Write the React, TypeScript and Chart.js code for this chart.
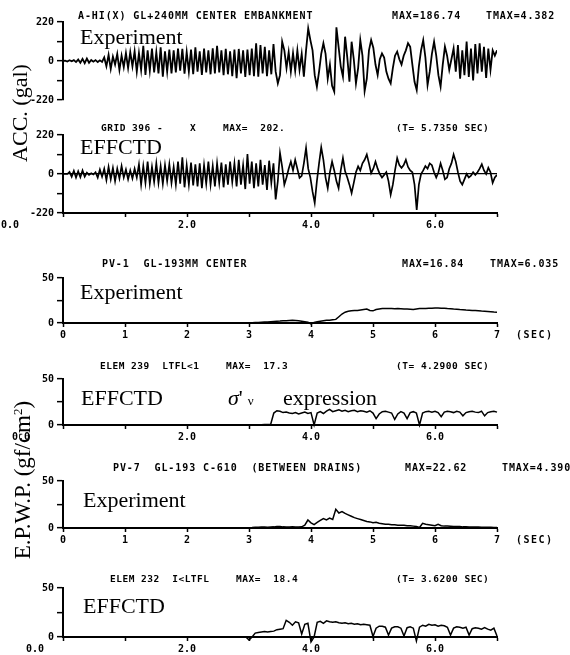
import React, { useEffect, useRef } from 'react';
import { Chart, registerables } from 'chart.js';

Chart.register(...registerables);

// ---------------- DATA ----------------
const TIME_START = 0;
const TIME_END = 7;
const TIME_TICKS = [0, 1, 2, 3, 4, 5, 6, 7];
const SEC_TICK_LABELS = ['0', '1', '2', '3', '4', '5', '6', '7'];
const DEC_TICK_LABELS = ['', '', '2.0', '', '4.0', '', '6.0', ''];
const ACC_TICKS = [-220, -110, 0, 110, 220];
const ACC_TICK_LABELS = ['-220', '', '0', '', '220'];
const EPWP_TICKS = [0, 25, 50];
const EPWP_TICK_LABELS = ['0', '', '50'];

// acceleration, experiment (gal), uniform time steps over 0–7 s
const ACC_EXPERIMENT = [
  0, 2, -3, 4, -2, 5, -6, 8, -10, 12,
  -12, 14, -10, 6, -4, 5, -6, 4, -5, 20,
  -30, 35, -45, 25, -20, 40, -50, 30, -35, 45,
  -40, 50, -30, 55, -60, 45, -50, 86, -79, 60,
  -55, 70, -65, 50, -70, 77, -88, 55, -60, 65,
  -70, 60, -65, 70, -55, 68, -72, 50, -60, 65,
  -75, 77, -60, 55, -79, 70, -65, 60, -75, 72,
  -70, 86, -65, 60, -80, 68, -75, 55, -85, 65,
  -97, 68, -70, 60, -90, 65, -80, 70, -85, 100,
  -88, 90, -70, 80, -85, 60, -75, 95, -60, -126,
  -80, 109, 60, -40, 50, -60, 45, -55, 60, -50,
  40, -88, 60, 184, 118, 60, -80, -145, -60, 40,
  100, 40, -100, -20, -140, -173, 190, 80, -30, -88,
  137, 20, -117, 109, 10, -126, -40, 118, 30, -170,
  -100, 60, 118, 75, -20, -79, 10, 43, 20, -60,
  -100, -126, -40, 30, 53, 10, -20, 30, 60, 100,
  80, -20, -117, -164, -30, 60, 118, 20, -135, -60,
  40, 109, 30, -80, -145, -20, 81, 30, -50, 10,
  71, -60, 90, -100, 60, -80, 110, -90, 70, -110,
  95, -70, 100, -60, 80, -95, 70, -50, 60, 30,
  60,
];

// acceleration, EFFCTD analysis (gal)
const ACC_EFFCTD = [
  0, 0, 0, 12, -15, 18, -20, 15, -18, 20,
  -15, 8, -5, 4, -3, 10, -20, 25, -15, 30,
  -35, 40, -30, 35, -40, 30, -25, 45, -20, 25,
  -30, 20, -25, 30, -20, 55, -60, 45, -50, 70,
  -55, 40, -45, 60, -50, 45, -55, 50, -40, 55,
  -50, 40, -60, 70, -55, 94, -75, 50, -60, 65,
  -65, 55, -70, 60, -80, 50, -55, 70, -60, 45,
  -70, 60, -50, 65, -75, 55, -60, 70, -45, 60,
  -70, 80, -60, 50, -85, 113, -55, 70, -80, 60,
  -70, 80, -60, 50, -90, 75, -50, 60, -143, -40,
  118, 40, -60, -20, 30, 70, 20, 80, 30, -22,
  -10, 60, 147, 30, -20, -100, -163, -40, 60, 150,
  80, -20, -80, 10, 70, 20, -40, -80, 20, 90,
  15, -20, -60, -107, -50, 10, 43, 20, 60, 80,
  110, 60, 5, 30, 70, 30, 0, -20, -5, 10,
  -40, -117, -60, 20, 90, 50, 35, 50, 80, 40,
  20, 10, -60, -202, -60, 0, 20, 45, 30, 60,
  50, 10, -20, 10, 60, 20, -30, -20, 30, 60,
  110, 70, 10, -40, -60, -30, 0, -20, -10, 10,
  -5, 10, 30, 55, 20, 0, 35, 10, -50, -20,
  -5,
];

// excess pore water pressure (gf/cm2), PV-1 experiment
const EPWP_PV1_EXPERIMENT = [
  0, 0, 0, 0, 0, 0, 0, 0, 0, 0,
  0, 0, 0, 0, 0, 0, 0, 0, 0, 0,
  0, 0, 0, 0, 0, 0, 0, 0, 0, 0,
  0, 0, 0, 0, 0, 0, 0, 0, 0, 0,
  0, 0, 0, 0, 0, 0, 0, 0, 0, 0,
  0, 0, 0, 0, 0, 0, 0, 0, 0, 0,
  0, 0.3, 0.5, 0.5, 0.8, 1.0, 1.2, 1.5, 1.8, 2.0,
  2.2, 2.5, 2.5, 2.8, 3.0, 2.8, 2.5, 2.0, 1.5, 0.8,
  -1.0, 0.5, 1.5, 2.0, 2.5, 3.0, 3.0, 3.5, 4.0, 7.0,
  10, 12, 13, 13.5, 14, 14, 14.5, 15, 15.5, 14,
  13.5, 15, 15.5, 16, 16, 16, 16, 15.8, 16, 15.8,
  15.5, 15.5, 15.3, 15, 15.5, 16, 16, 16.2, 16.5, 16.5,
  16.8, 16.8, 16.5, 16.3, 16, 15.8, 15.5, 15.3, 15, 14.8,
  14.5, 14.3, 14, 13.8, 13.5, 13.2, 13, 12.8, 12.5, 12.2,
  12,
];

// EFFCTD element 239
const EPWP_E239_EFFCTD = [
  0, 0, 0, 0, 0, 0, 0, 0, 0, 0,
  0, 0, 0, 0, 0, 0, 0, 0, 0, 0,
  0, 0, 0, 0, 0, 0, 0, 0, 0, 0,
  0, 0, 0, 0, 0, 0, 0, 0, 0, 0,
  0, 0, 0, 0, 0, 0, 0, 0, 0, 0,
  0, 0, 0, 0, 0, 0, 0, 0, 0, 0,
  0, 0.1, 0.2, 0.3, 0.4, 0.5, 0.6, 0.8, 13, 15.5,
  15, 13.5, 14, 13, 12.5, 13.5, 12, 13, 14, 12.5,
  13.5, 0, 13, 14.5, 12.5, 15, 17, 14.5, 15.5, 16.5,
  15, 16, 14.5, 15.5, 16, 14.5, 15.5, 15, 14, 15.5,
  13, 7, 12, 14.5, 15, 14, 13, 6, 12, 14.5,
  13, 7, 13.5, 14.5, 13, 0, 13, 14.5, 15, 14,
  15, 13.5, 9, 14, 15, 14.5, 13.5, 15, 14, 10,
  13.5, 14.5, 15, 14, 13.5, 15, 10, 13.5, 14.5, 15,
  14,
];

// PV-7 experiment (between drains)
const EPWP_PV7_EXPERIMENT = [
  0, 0, 0, 0, 0, 0, 0, 0, 0, 0,
  0, 0, 0, 0, 0, 0, 0, 0, 0, 0,
  0, 0, 0, 0, 0, 0, 0, 0, 0, 0,
  0, 0, 0, 0, 0, 0, 0, 0, 0, 0,
  0, 0, 0, 0, 0, 0, 0, 0, 0, 0,
  0, 0, 0, 0, 0, 0, 0, 0, 0, 0,
  0.3, 0.5, 0.8, 0.8, 1.0, 1.0, 0.8, 1.0, 1.2, 1.5,
  1.5, 1.2, 1.0, 1.0, 1.2, 1.0, 1.0, 1.2, 3, 8.5,
  5.5, 3.5, 6, 8, 10, 8.5, 10.5, 9, 20, 16,
  17.5, 15.5, 14, 12.5, 11, 10, 9, 8, 7, 6.5,
  5.5, 6, 5, 4.5, 4, 4, 3.5, 3.5, 3, 3,
  3, 2.5, 2.5, 2, 1.5, 0.5, 5, 4, 3.5, 3,
  2.5, 4, 2.5, 2, 2, 1.8, 1.5, 1.5, 1.5, 1.2,
  1.2, 1, 1, 1, 1, 0.8, 0.8, 0.8, 0.8, 0.5,
  0.5,
];

// EFFCTD element 232
const EPWP_E232_EFFCTD = [
  0, 0, 0, 0, 0, 0, 0, 0, 0, 0,
  0, 0, 0, 0, 0, 0, 0, 0, 0, 0,
  0, 0, 0, 0, 0, 0, 0, 0, 0, 0,
  0, 0, 0, 0, 0, 0, 0, 0, 0, 0,
  0, 0, 0, 0, 0, 0, 0, 0, 0, 0,
  0, 0, 0, 0, 0, 0, 0, 0, 0, 0,
  -3, 0, 4, 4.5, 5, 5.5, 5, 5.5, 6, 7.5,
  8, 8.5, 17, 15, 12, 15.5, 14.5, 3, 13, 14,
  -5, 0, 15, 16, 14, 16.5, 15.5, 15, 15.5, 14.5,
  14, 14.5, 13.5, 14, 13, 13.5, 12.5, 13, 12.5, 12,
  0.5, 9, 11, 11, 10, 2, 9, 10.5, 10.5, 9,
  1, 9.5, 10.5, 9, -4, 10, 12, 11, 13, 12,
  12.5, 11, 12, 11.5, 10, 2, 9, 10.5, 10, 9,
  10, 2, 8.5, 9.5, 9, 8, 9.5, 8, 7, 9,
  1,
];

// ---------------- LAYOUT ----------------
const W = 570;
const H = 655;
const PLOT_LEFT = 63;
const PLOT_RIGHT = 497;
const XAXIS_H = 18;
const PLOT_FONT = '"DejaVu Sans Mono", "Liberation Mono", monospace';
const SERIF = '"Liberation Serif", "DejaVu Serif", serif';

type Panel = {
  values: number[];
  yMin: number;
  yMax: number;
  yTicks: number[];
  yLabels: string[];
  top: number;
  bottom: number;
  xAxis: 'none' | 'sec' | 'dec';
  zeroLine: boolean;
  lineWidth: number;
  clip: boolean;
};

const PANELS: Panel[] = [
  { values: ACC_EXPERIMENT, yMin: -220, yMax: 220, yTicks: ACC_TICKS, yLabels: ACC_TICK_LABELS, top: 22, bottom: 100, xAxis: 'none', zeroLine: false, lineWidth: 1.8, clip: true },
  { values: ACC_EFFCTD, yMin: -220, yMax: 220, yTicks: ACC_TICKS, yLabels: ACC_TICK_LABELS, top: 135, bottom: 213, xAxis: 'dec', zeroLine: true, lineWidth: 1.7, clip: true },
  { values: EPWP_PV1_EXPERIMENT, yMin: 0, yMax: 50, yTicks: EPWP_TICKS, yLabels: EPWP_TICK_LABELS, top: 278, bottom: 323, xAxis: 'sec', zeroLine: false, lineWidth: 1.5, clip: false },
  { values: EPWP_E239_EFFCTD, yMin: 0, yMax: 50, yTicks: EPWP_TICKS, yLabels: EPWP_TICK_LABELS, top: 379, bottom: 425, xAxis: 'dec', zeroLine: false, lineWidth: 1.5, clip: false },
  { values: EPWP_PV7_EXPERIMENT, yMin: 0, yMax: 50, yTicks: EPWP_TICKS, yLabels: EPWP_TICK_LABELS, top: 481, bottom: 528, xAxis: 'sec', zeroLine: false, lineWidth: 1.5, clip: false },
  { values: EPWP_E232_EFFCTD, yMin: 0, yMax: 50, yTicks: EPWP_TICKS, yLabels: EPWP_TICK_LABELS, top: 588, bottom: 637, xAxis: 'dec', zeroLine: false, lineWidth: 1.5, clip: false },
];

// experiment-record headers
const EXP_TITLES: [number, number, string][] = [
  [78, 19, 'A-HI(X) GL+240MM CENTER EMBANKMENT'],
  [392, 19, 'MAX=186.74'],
  [486, 19, 'TMAX=4.382'],
  [102, 267, 'PV-1  GL-193MM CENTER'],
  [402, 267, 'MAX=16.84'],
  [490, 267, 'TMAX=6.035'],
  [113, 471, 'PV-7  GL-193 C-610  (BETWEEN DRAINS)'],
  [405, 471, 'MAX=22.62'],
  [502, 471, 'TMAX=4.390'],
];
// EFFCTD-record headers
const EFF_TITLES: [number, number, string][] = [
  [101, 131, 'GRID 396 -'],
  [190, 131, 'X'],
  [223, 131, 'MAX=  202.'],
  [396, 131, '(T= 5.7350 SEC)'],
  [100, 369, 'ELEM 239  LTFL<1'],
  [226, 369, 'MAX=  17.3'],
  [396, 369, '(T= 4.2900 SEC)'],
  [110, 582, 'ELEM 232  I<LTFL'],
  [236, 582, 'MAX=  18.4'],
  [396, 582, '(T= 3.6200 SEC)'],
];
const NOTES: [number, number, string][] = [
  [80, 44, 'Experiment'],
  [80, 154, 'EFFCTD'],
  [80, 299, 'Experiment'],
  [81, 405, 'EFFCTD'],
  [83, 507, 'Experiment'],
  [83, 613, 'EFFCTD'],
];
// extra axis texts: [x, panelIndex, text]
const ZERO_LABELS: [number, number, string][] = [
  [10, 1, '0.0'],
  [21, 3, '0.0'],
  [35, 5, '0.0'],
];
const SEC_LABELS: [number, number, string][] = [
  [516, 2, '(SEC)'],
  [516, 4, '(SEC)'],
];

function makeChart(canvas: HTMLCanvasElement, p: Panel) {
  const dt = (TIME_END - TIME_START) / (p.values.length - 1);
  const points = p.values.map((v, i) => ({ x: TIME_START + i * dt, y: v }));
  const xh = p.xAxis === 'none' ? 0 : XAXIS_H;
  const tickFont = { family: PLOT_FONT, size: 10, weight: 'bold' as const };
  return new Chart(canvas, {
    type: 'line',
    data: {
      datasets: [
        {
          data: points,
          borderColor: '#000',
          borderWidth: p.lineWidth,
          borderJoinStyle: 'miter',
          pointRadius: 0,
          tension: 0,
          fill: false,
          ...(p.clip ? {} : { clip: false as any }),
        },
      ],
    },
    options: {
      animation: false,
      responsive: false,
      devicePixelRatio: 1,
      events: [],
      plugins: { legend: { display: false }, tooltip: { enabled: false } },
      layout: {
        padding: { left: 0, right: W - PLOT_RIGHT, top: p.top, bottom: H - p.bottom - xh },
      },
      scales: {
        x: {
          type: 'linear',
          min: TIME_START,
          max: TIME_END,
          display: p.xAxis !== 'none',
          afterFit: (s: any) => {
            s.height = xh;
          },
          afterBuildTicks: (s: any) => {
            s.ticks = TIME_TICKS.map((v) => ({ value: v }));
          },
          ticks: {
            autoSkip: false,
            maxRotation: 0,
            padding: 2,
            color: '#000',
            font: tickFont,
            callback: (v: any) => {
              const idx = TIME_TICKS.indexOf(Number(v));
              if (idx < 0) return '';
              return p.xAxis === 'sec' ? SEC_TICK_LABELS[idx] : DEC_TICK_LABELS[idx];
            },
          },
          grid: { drawOnChartArea: false, tickLength: 4, tickColor: '#000', tickWidth: 1.5 },
          border: { display: true, color: '#000', width: 2 },
        },
        y: {
          type: 'linear',
          min: p.yMin,
          max: p.yMax,
          afterFit: (s: any) => {
            s.width = PLOT_LEFT;
          },
          afterBuildTicks: (s: any) => {
            s.ticks = p.yTicks.map((v) => ({ value: v }));
          },
          ticks: {
            padding: 3,
            color: '#000',
            font: tickFont,
            callback: (v: any) => {
              const idx = p.yTicks.indexOf(Number(v));
              return idx < 0 ? '' : p.yLabels[idx];
            },
          },
          grid: {
            drawOnChartArea: p.zeroLine,
            color: (ctx: any) =>
              p.zeroLine && ctx.tick && ctx.tick.value === 0 ? '#000' : 'rgba(0,0,0,0)',
            lineWidth: 1.3,
            tickColor: '#000',
            tickLength: 6,
            tickWidth: 1.5,
          },
          border: { display: true, color: '#000', width: 2 },
        },
      },
    },
  });
}

function textTop(baseline: number, size: number) {
  return baseline - 0.84 * size;
}

export default function App() {
  const refs = useRef<(HTMLCanvasElement | null)[]>([]);

  useEffect(() => {
    const charts = PANELS.map((p, i) => makeChart(refs.current[i] as HTMLCanvasElement, p));
    return () => {
      charts.forEach((c) => c.destroy());
    };
  }, []);

  const abs: React.CSSProperties = { position: 'absolute', whiteSpace: 'pre', margin: 0, color: '#000' };
  const plotText: React.CSSProperties = {
    ...abs,
    fontFamily: PLOT_FONT,
    fontWeight: 'bold',
    fontSize: 10,
    lineHeight: '10px',
    letterSpacing: '0.9px',
  };
  const effText: React.CSSProperties = {
    ...abs,
    fontFamily: PLOT_FONT,
    fontWeight: 'bold',
    fontSize: 9.5,
    lineHeight: '10px',
    letterSpacing: '0.5px',
  };

  return (
    <div
      style={{
        position: 'absolute',
        left: 0,
        top: 0,
        width: W,
        height: H,
        overflow: 'hidden',
        background: '#fff',
      }}
    >
      {PANELS.map((_, i) => (
        <canvas
          key={i}
          ref={(el) => {
            refs.current[i] = el;
          }}
          width={W}
          height={H}
          style={{ position: 'absolute', left: 0, top: 0, width: W, height: H }}
        />
      ))}

      {EXP_TITLES.map(([x, y, t], i) => (
        <div key={'t' + i} style={{ ...plotText, left: x, top: textTop(y, 10) }}>
          {t}
        </div>
      ))}
      {EFF_TITLES.map(([x, y, t], i) => (
        <div key={'f' + i} style={{ ...effText, left: x, top: textTop(y, 9.5) }}>
          {t}
        </div>
      ))}
      {NOTES.map(([x, y, t], i) => (
        <div
          key={'n' + i}
          style={{ ...abs, left: x, top: textTop(y, 22), fontFamily: SERIF, fontSize: 22, lineHeight: '22px' }}
        >
          {t}
        </div>
      ))}
      <div style={{ ...abs, left: 228, top: textTop(405, 22), fontFamily: SERIF, fontSize: 22, lineHeight: '22px' }}>
        <span style={{ fontStyle: 'italic' }}>σ</span>
        <span>'</span>
        <span style={{ fontSize: 13, marginLeft: 5 }}>ν</span>
      </div>
      <div style={{ ...abs, left: 283, top: textTop(405, 22), fontFamily: SERIF, fontSize: 22, lineHeight: '22px' }}>
        expression
      </div>

      {ZERO_LABELS.map(([cx, pi, t], i) => (
        <div
          key={'z' + i}
          style={{
            ...abs,
            left: cx,
            top: PANELS[pi].bottom + 4 + 2 + 6,
            transform: 'translate(-50%, -50%)',
            fontFamily: PLOT_FONT,
            fontWeight: 'bold',
            fontSize: 10,
            lineHeight: '12px',
          }}
        >
          {t}
        </div>
      ))}
      {SEC_LABELS.map(([x, pi, t], i) => (
        <div
          key={'s' + i}
          style={{
            ...abs,
            left: x,
            top: PANELS[pi].bottom + 4 + 2 + 6,
            transform: 'translateY(-50%)',
            fontFamily: PLOT_FONT,
            fontWeight: 'bold',
            fontSize: 10,
            lineHeight: '12px',
            letterSpacing: '1.5px',
          }}
        >
          {t}
        </div>
      ))}

      <div
        style={{
          ...abs,
          left: 20,
          top: 113,
          transform: 'translate(-50%, -50%) rotate(-90deg)',
          fontFamily: SERIF,
          fontSize: 22,
          lineHeight: '22px',
        }}
      >
        ACC. (gal)
      </div>
      <div
        style={{
          ...abs,
          left: 20,
          top: 480,
          transform: 'translate(-50%, -50%) rotate(-90deg)',
          fontFamily: SERIF,
          fontSize: 23,
          lineHeight: '23px',
        }}
      >
        E.P.W.P. (gf/cm<sup style={{ fontSize: 13 }}>2</sup>)
      </div>
    </div>
  );
}
